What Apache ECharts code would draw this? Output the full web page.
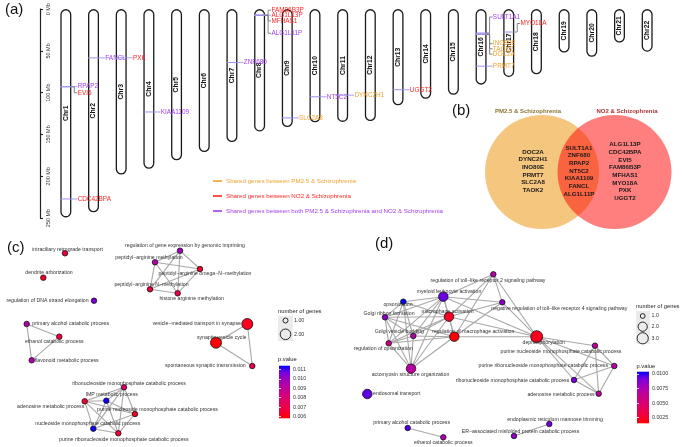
<!DOCTYPE html>
<html><head><meta charset="utf-8">
<script src="https://cdn.jsdelivr.net/npm/echarts@6/dist/echarts.min.js"></script>
<style>html,body{margin:0;padding:0;background:#fff}#chart{width:685px;height:447px}</style>
</head><body><div id="chart"></div>
<script>
// ---------------- DATA ----------------
// (a) chromosomes (lengths in Mb)
const chromosomes = ['Chr1','Chr2','Chr3','Chr4','Chr5','Chr6','Chr7','Chr8','Chr9','Chr10','Chr11','Chr12','Chr13','Chr14','Chr15','Chr16','Chr17','Chr18','Chr19','Chr20','Chr21','Chr22'];
const chrLengthMb = [249.3, 243.2, 198.0, 191.2, 180.9, 171.1, 159.1, 146.4, 141.2, 135.5, 135.0, 133.9, 115.2, 107.3, 102.5, 90.4, 81.2, 78.1, 52, 57, 40, 51];
const mbTicks = [0, 50, 100, 150, 200, 250];

const geneNames = ['RPAP2','EVI5','CDC42BPA','FANCL','PXK','KIAA1109','ZNF680','FAM86B3P','ALG1L13P','MFHAS1','ALG1L11P','SLC2A8','NT5C2','DYNC2H1','UGGT2','SULT1A1','INO80E','TAOK2','DOC2A','PRMT7','MYO18A'];
const geneChr   = ['Chr1','Chr1','Chr1','Chr2','Chr3','Chr4','Chr7','Chr8','Chr8','Chr8','Chr8','Chr9','Chr10','Chr11','Chr13','Chr16','Chr16','Chr16','Chr16','Chr16','Chr17'];
const genePosMb = [92.8, 93.0, 227.2, 58.4, 58.3, 123.1, 64.0, 7.2, 7.3, 7.6, 7.4, 130.2, 104.9, 103.0, 96.5, 28.6, 30.0, 30.0, 30.0, 68.3, 27.4];
const geneGroup = ['both','NO2','NO2','both','NO2','both','both','NO2','NO2','NO2','both','PM25','both','PM25','NO2','both','PM25','PM25','PM25','PM25','NO2'];
const groupLegend = ['Shared genes between PM2.5 & Schizophrenia','Shared genes between NO2 & Schizophrenia','Shared genes between both PM2.5 & Schizophrenia and NO2 & Schizophrenia'];

// (b) Venn
const vennSets = ['PM2.5 & Schizophrenia','NO2 & Schizophrenia'];
const vennPM25Only = ['DOC2A','DYNC2H1','INO80E','PRMT7','SLC2A8','TAOK2'];
const vennShared = ['SULT1A1','ZNF680','RPAP2','NT5C2','KIAA1109','FANCL','ALG1L11P'];
const vennNO2Only = ['ALG1L13P','CDC42BPA','EVI5','FAM86B3P','MFHAS1','MYO18A','PXK','UGGT2'];

// (c) enrichment network (PM2.5)
const cTerms = ['intraciliary retrograde transport','dendrite arborization','regulation of DNA strand elongation','regulation of gene expression by genomic imprinting','peptidyl\u2212arginine methylation','peptidyl\u2212arginine omega\u2212N\u2212methylation','peptidyl\u2212arginine N\u2212methylation','histone arginine methylation','primary alcohol catabolic process','ethanol catabolic process','flavonoid metabolic process','vesicle\u2212mediated transport in synapse','synaptic vesicle cycle','spontaneous synaptic transmission','ribonucleoside monophosphate catabolic process','IMP metabolic process','adenosine metabolic process','purine nucleoside monophosphate catabolic process','nucleoside monophosphate catabolic process','purine ribonucleoside monophosphate catabolic process'];
const cPvalue = [0.0068, 0.0064, 0.0105, 0.0098, 0.0094, 0.0065, 0.0068, 0.0070, 0.0094, 0.0067, 0.0094, 0.0063, 0.0059, 0.0072, 0.0078, 0.0113, 0.0065, 0.0063, 0.0113, 0.0066];
const cGeneCount = [1,1,1,1,1,1,1,1,1,1,1,2,2,1,1,1,1,1,1,1];
const cLayoutX = [65, 43.3, 94, 180, 155, 200, 150, 177.7, 26.7, 59.3, 31.7, 247.3, 216, 252.3, 124, 106.3, 84.7, 135, 93.3, 118.3];
const cLayoutY = [23.3, 47.7, 70.7, 20.7, 32.3, 39, 59.3, 63.3, 94, 106.7, 130.3, 94, 112.7, 136, 157.3, 170.7, 171.3, 184, 198.7, 203.3];
const cEdges = [[3,4],[3,5],[3,6],[3,7],[4,5],[4,6],[4,7],[5,6],[5,7],[6,7],[8,9],[8,10],[9,10],[11,12],[11,13],[12,13],
  [14,15],[14,16],[14,17],[14,18],[14,19],[15,16],[15,17],[15,18],[15,19],[16,17],[16,18],[16,19],[17,18],[17,19],[18,19]];
const cPTicks = [0.006, 0.011];

// (d) enrichment network (NO2)
const dTerms = ['regulation of toll\u2212like receptor 2 signaling pathway','myeloid leukocyte activation','opsonization','negative regulation of toll\u2212like receptor 4 signaling pathway','Golgi ribbon formation','macrophage activation','Golgi vesicle budding','regulation of macrophage activation','dephosphorylation','regulation of opsonization','actomyosin structure organization','endosomal transport','purine nucleoside monophosphate catabolic process','purine ribonucleoside monophosphate catabolic process','ribonucleoside monophosphate catabolic process','adenosine metabolic process','primary alcohol catabolic process','ethanol catabolic process','endoplasmic reticulum mannose trimming','ER\u2212associated misfolded protein catabolic process'];
const dPvalue = [0.0073, 0.0094, 0.0104, 0.0086, 0.0086, 0.0024, 0.0073, 0.0017, 0.0022, 0.0060, 0.0068, 0.0095, 0.0068, 0.0068, 0.0091, 0.0068, 0.0096, 0.0073, 0.0093, 0.0084];
const dGeneCount = [1,2,1,1,1,2,1,2,3,1,2,2,1,1,1,1,1,1,1,1];
const dLayoutX = [153.3, 103.3, 63.3, 162.3, 45, 109, 73.3, 114.3, 196.7, 48.7, 71, 27.3, 255, 274.3, 234, 258.7, 67.7, 103.3, 209.3, 174];
const dLayoutY = [44.3, 66.7, 71.7, 72.3, 87.3, 86.7, 106, 106.7, 106.7, 113.3, 138.7, 164, 115.7, 136, 150, 163.7, 198, 207.3, 194, 206];
const dEdges = [[0,1],[0,3],[0,5],[0,7],[0,8],[3,1],[3,5],[3,7],[3,8],
  [1,2],[1,4],[1,5],[1,6],[1,7],[1,8],[1,9],[1,10],
  [5,2],[5,4],[5,6],[5,7],[5,8],[5,9],[5,10],
  [7,4],[7,6],[7,8],[7,9],[7,10],
  [2,4],[2,6],[2,9],[2,10],[4,6],[4,9],[4,10],[6,9],[6,10],[9,10],
  [8,12],[8,13],[8,14],[8,15],[12,13],[12,14],[12,15],[13,14],[13,15],[14,15],[16,17],[18,19]];
const dPTicks = [0.0025, 0.0100];

// ---------------- STYLE / LAYOUT ----------------
const FONT = 'Liberation Sans, Arial, sans-serif';
const groupColor = {PM25:'#F0A22E', NO2:'#FF2424', both:'#A23CEE'};
const groupKeys = ['PM25','NO2','both'];
const markerColor = '#9D92EC';
const edgeColor = '#A8A8A8';
const geneLabelDy = [0, 6, 0, 0, 0, 0, 0, -5, 0, 5.5, 18, 0, 0, 0, 0, -16, 9.5, 14.6, 20, 0, -8.5];
const cLabelOff = [[2.5,-4],[5.7,-5],[-46.5,0],[5,-5],[-6,-4.6],[5,5],[1.5,-4.3],[14,5],[44,0],[-5,5],[35,0],[-50.6,0],[5.7,-5],[-47,0],[5,-4],[5.4,-5.7],[-34,5.4],[22.5,-4.7],[-5.5,-4.7],[5.5,6]];
const dLabelOff = [[-5.3,6.4],[5.7,-5.4],[-5.3,3.3],[57,6],[4,-4],[-1.5,-5],[-14,-4.3],[19,-5],[7,6],[-5.4,5],[-0.5,5.6],[29.4,0],[-34,5.6],[-71,0],[-61.5,0.7],[-37.7,1],[4,-5.3],[0,5],[5.7,-4],[6.5,-4.7]];
const cSize = {1:5.5, 2:11};
const dSize = {1:5.5, 2:9.5, 3:12};
const cRange = [0.00583, 0.01138];
const dRange = [0.00154, 0.0104];
const panelShiftC = 0, panelShiftD = 340;   // horizontal placement of each network inside the shared bottom grid
const gradStops = ['#FF0000','#F40031','#E80050','#DA006C','#CA0089','#B500A5','#9A00C2','#7300E0','#0000FF'];

function hexToRgb(h){return [parseInt(h.slice(1,3),16),parseInt(h.slice(3,5),16),parseInt(h.slice(5,7),16)];}
function pColor(p, r){
  let t = (p - r[0])/(r[1]-r[0]); t = Math.max(0, Math.min(1, t));
  const f = t*(gradStops.length-1); const i = Math.min(gradStops.length-2, Math.floor(f)); const u = f - i;
  const a = hexToRgb(gradStops[i]), b = hexToRgb(gradStops[i+1]);
  return 'rgb(' + a.map((v,k)=>Math.round(v+(b[k]-v)*u)).join(',') + ')';
}
function gradient(){
  const n = gradStops.length;
  return new echarts.graphic.LinearGradient(0,0,0,1, gradStops.slice().reverse().map((c,i)=>({offset:i/(n-1), color:c})));
}

const chart = echarts.init(document.getElementById('chart'), null, {renderer:'canvas'});

// all edges of both networks in one custom series drawn through the shared axes
const edgeRows = [];
cEdges.forEach(e=>edgeRows.push([cLayoutX[e[0]]+panelShiftC, cLayoutY[e[0]], cLayoutX[e[1]]+panelShiftC, cLayoutY[e[1]]]));
dEdges.forEach(e=>edgeRows.push([dLayoutX[e[0]]+panelShiftD, dLayoutY[e[0]], dLayoutX[e[1]]+panelShiftD, dLayoutY[e[1]]]));

function nodeSeries(terms, pv, cnt, lx, ly, off, sizeMap, range, shift){
  return {type:'scatter', xAxisIndex:2, yAxisIndex:2, silent:true, z:5,
    data: terms.map((t,i)=>({name:t, value:[lx[i]+shift, ly[i]], symbolSize:sizeMap[cnt[i]],
      itemStyle:{color:pColor(pv[i], range), borderColor:'#111', borderWidth:0.8, opacity:1},
      label:{offset:off[i]}})),
    label:{show:true, position:'inside', formatter:'{b}', color:'#333', fontSize:5.2, fontFamily:FONT}};
}

const chrBarW = 11;
const option = {
  animation:false,
  backgroundColor:'#fff',
  textStyle:{fontFamily:FONT},
  grid:[
    {left:52, right:24, top:9, bottom:229},
    {left:480, top:110, width:200, height:125},
    {left:0, top:230, width:685, height:217},
    {left:279, top:369.3, width:11, height:47.4},
    {left:637, top:374, width:12, height:43.7}
  ],
  xAxis:[
    {gridIndex:0, type:'category', data:chromosomes, show:false, boundaryGap:true},
    {gridIndex:1, type:'value', min:0, max:200, show:false},
    {gridIndex:2, type:'value', min:0, max:685, show:false},
    {gridIndex:3, type:'value', min:0, max:1, show:false},
    {gridIndex:4, type:'value', min:0, max:1, show:false}
  ],
  yAxis:[
    {gridIndex:0, type:'value', min:mbTicks[0], max:mbTicks[mbTicks.length-1], interval:50, inverse:true, position:'left', offset:12,
      axisLine:{show:true, lineStyle:{color:'#222', width:1.2}}, axisTick:{show:true, inside:true, length:3, lineStyle:{color:'#222', width:1.1}},
      splitLine:{show:false},
      axisLabel:{inside:true, rotate:90, margin:5, fontSize:5.5, color:'#333', formatter:'{value} Mb', fontFamily:FONT}},
    {gridIndex:1, type:'value', min:0, max:125, inverse:true, show:false},
    {gridIndex:2, type:'value', min:0, max:217, inverse:true, show:false},
    {gridIndex:3, type:'value', min:cPTicks[0], max:cPTicks[1], interval:0.001, position:'right',
      axisLine:{show:false}, splitLine:{show:false}, axisTick:{show:true, inside:true, length:2, lineStyle:{color:'#fff', width:0.8}},
      axisLabel:{margin:3, fontSize:5.3, color:'#333', formatter:v=>v.toFixed(3), fontFamily:FONT}, z:10},
    {gridIndex:3, type:'value', min:cPTicks[0], max:cPTicks[1], interval:0.001, position:'left',
      axisLine:{show:false}, splitLine:{show:false}, axisTick:{show:true, inside:true, length:2, lineStyle:{color:'#fff', width:0.8}},
      axisLabel:{show:false}, z:10},
    {gridIndex:4, type:'value', min:dPTicks[0], max:dPTicks[1], interval:0.0025, position:'right',
      axisLine:{show:false}, splitLine:{show:false}, axisTick:{show:true, inside:true, length:2, lineStyle:{color:'#fff', width:0.8}},
      axisLabel:{margin:3, fontSize:5.3, color:'#333', formatter:v=>v.toFixed(4), fontFamily:FONT}, z:10},
    {gridIndex:4, type:'value', min:dPTicks[0], max:dPTicks[1], interval:0.0025, position:'left',
      axisLine:{show:false}, splitLine:{show:false}, axisTick:{show:true, inside:true, length:2, lineStyle:{color:'#fff', width:0.8}},
      axisLabel:{show:false}, z:10}
  ],
  series:[
    // chromosomes
    {type:'bar', xAxisIndex:0, yAxisIndex:0, data:chrLengthMb, barWidth:chrBarW, silent:true,
      itemStyle:{color:'#fff', borderColor:'#1a1a1a', borderWidth:1.3, borderRadius:5},
      label:{show:true, position:'inside', rotate:90, formatter:p=>chromosomes[p.dataIndex], fontSize:6.8, fontWeight:'bold', color:'#111', fontFamily:FONT}},
    // gene annotations
    {type:'custom', xAxisIndex:0, yAxisIndex:0, silent:true, clip:false, z:4,
      data: geneNames.map((g,i)=>[geneChr[i], genePosMb[i]]),
      renderItem:(params, api)=>{
        const i = params.dataIndex;
        const p = api.coord([api.value(0), api.value(1)]);
        const xl = p[0]-chrBarW/2, xr = p[0]+chrBarW/2, y = p[1], dy = geneLabelDy[i], ly = y+dy;
        const conColor = dy===0 ? markerColor : '#7a7a7a';
        return {type:'group', children:[
          {type:'line', shape:{x1:xl, y1:y, x2:xr, y2:y}, style:{stroke:markerColor, lineWidth:1}},
          {type:'polyline', shape:{points:[[xr,y],[xr+3,y],[xr+3,ly],[xr+6,ly]]}, style:{stroke:conColor, lineWidth:0.9, fill:null}},
          {type:'text', x:xr+6.3, y:ly, style:{text:geneNames[i], fill:groupColor[geneGroup[i]], font:'6.4px '+FONT, textVerticalAlign:'middle', textAlign:'left', verticalAlign:'middle'}}
        ]};
      }},
    // Venn circles
    {type:'scatter', xAxisIndex:1, yAxisIndex:1, silent:true, symbolSize:114, z:2,
      data:[{value:[62,62], itemStyle:{color:'#F5C77E', opacity:1}}, {value:[134.5,62], itemStyle:{color:'#FF0000', opacity:0.5}}]},
    // network edges
    {type:'custom', xAxisIndex:2, yAxisIndex:2, silent:true, clip:false, z:3,
      dimensions:['x1','y1','x2','y2'], encode:{x:[0,2], y:[1,3]},
      data: edgeRows,
      renderItem:(params, api)=>{
        const a = api.coord([api.value(0), api.value(1)]);
        const b = api.coord([api.value(2), api.value(3)]);
        return {type:'line', shape:{x1:a[0], y1:a[1], x2:b[0], y2:b[1]}, style:{stroke:edgeColor, lineWidth:1.1, fill:null}};
      }},
    nodeSeries(cTerms, cPvalue, cGeneCount, cLayoutX, cLayoutY, cLabelOff, cSize, cRange, panelShiftC),
    nodeSeries(dTerms, dPvalue, dGeneCount, dLayoutX, dLayoutY, dLabelOff, dSize, dRange, panelShiftD)
  ],
  graphic:[
    {type:'text', left:5, top:2, style:{text:'(a)', font:'15px '+FONT, fill:'#111'}},
    {type:'text', left:452, top:103, style:{text:'(b)', font:'15px '+FONT, fill:'#111'}},
    {type:'text', left:7, top:240, style:{text:'(c)', font:'15px '+FONT, fill:'#111'}},
    {type:'text', left:375, top:236, style:{text:'(d)', font:'15px '+FONT, fill:'#111'}},
    // legend (a)
    ...groupLegend.map((t,i)=>({type:'group', children:[
      {type:'line', shape:{x1:213, y1:181+i*15, x2:222, y2:181+i*15}, style:{stroke:groupColor[groupKeys[i]], lineWidth:1.6}},
      {type:'text', x:226, y:181+i*15, style:{text:t, fill:groupColor[groupKeys[i]], font:'6.2px '+FONT, textVerticalAlign:'middle', verticalAlign:'middle'}}
    ]})),
    // Venn titles and lists
    {type:'text', x:528, y:111, style:{text:vennSets[0], fill:'#8C7330', font:'bold 6px '+FONT, textAlign:'center', textVerticalAlign:'middle', align:'center', verticalAlign:'middle'}},
    {type:'text', x:627, y:111, style:{text:vennSets[1], fill:'#A83236', font:'bold 6px '+FONT, textAlign:'center', textVerticalAlign:'middle', align:'center', verticalAlign:'middle'}},
    {type:'text', x:533, y:171, z:10, style:{text:vennPM25Only.join('\n'), fill:'#1a1a1a', font:'bold 6.2px '+FONT, lineHeight:7.67, textAlign:'center', textVerticalAlign:'middle', align:'center', verticalAlign:'middle'}},
    {type:'text', x:579, y:171, z:10, style:{text:vennShared.join('\n'), fill:'#1a1a1a', font:'bold 6.2px '+FONT, lineHeight:7.67, textAlign:'center', textVerticalAlign:'middle', align:'center', verticalAlign:'middle'}},
    {type:'text', x:625, y:171.3, z:10, style:{text:vennNO2Only.join('\n'), fill:'#1a1a1a', font:'bold 6.2px '+FONT, lineHeight:7.67, textAlign:'center', textVerticalAlign:'middle', align:'center', verticalAlign:'middle'}},
    // legend (c)
    {type:'text', x:278, y:311, style:{text:'number of genes', fill:'#222', font:'5.8px '+FONT, textVerticalAlign:'middle', verticalAlign:'middle'}},
    {type:'rect', shape:{x:278, y:316, width:15, height:25}, style:{fill:'#EBEBEB'}},
    {type:'circle', shape:{cx:285.5, cy:320.5, r:2.5}, style:{fill:'#EBEBEB', stroke:'#111', lineWidth:0.9}},
    {type:'circle', shape:{cx:285.5, cy:334.3, r:5.3}, style:{fill:'#EBEBEB', stroke:'#111', lineWidth:0.9}},
    {type:'text', x:294, y:320.5, style:{text:'1.00', fill:'#333', font:'5.3px '+FONT, textVerticalAlign:'middle', verticalAlign:'middle'}},
    {type:'text', x:294, y:334.3, style:{text:'2.00', fill:'#333', font:'5.3px '+FONT, textVerticalAlign:'middle', verticalAlign:'middle'}},
    {type:'text', x:278, y:359.5, style:{text:'p.value', fill:'#222', font:'5.8px '+FONT, textVerticalAlign:'middle', verticalAlign:'middle'}},
    {type:'rect', z:1, shape:{x:279, y:365.7, width:11, height:52.6}, style:{fill:gradient()}},
    // legend (d)
    {type:'text', x:636, y:306, style:{text:'number of genes', fill:'#222', font:'5.8px '+FONT, textVerticalAlign:'middle', verticalAlign:'middle'}},
    {type:'rect', shape:{x:636, y:311, width:14, height:33}, style:{fill:'#EBEBEB'}},
    {type:'circle', shape:{cx:642.7, cy:316, r:2.4}, style:{fill:'#EBEBEB', stroke:'#111', lineWidth:0.9}},
    {type:'circle', shape:{cx:642.7, cy:326.7, r:4.6}, style:{fill:'#EBEBEB', stroke:'#111', lineWidth:0.9}},
    {type:'circle', shape:{cx:642.7, cy:338.3, r:5.6}, style:{fill:'#EBEBEB', stroke:'#111', lineWidth:0.9}},
    {type:'text', x:651.5, y:316, style:{text:'1.0', fill:'#333', font:'5.3px '+FONT, textVerticalAlign:'middle', verticalAlign:'middle'}},
    {type:'text', x:651.5, y:326.7, style:{text:'2.0', fill:'#333', font:'5.3px '+FONT, textVerticalAlign:'middle', verticalAlign:'middle'}},
    {type:'text', x:651.5, y:338.3, style:{text:'3.0', fill:'#333', font:'5.3px '+FONT, textVerticalAlign:'middle', verticalAlign:'middle'}},
    {type:'text', x:636.5, y:366.7, style:{text:'p.value', fill:'#222', font:'5.8px '+FONT, textVerticalAlign:'middle', verticalAlign:'middle'}},
    {type:'rect', z:1, shape:{x:637, y:371.7, width:12, height:51.6}, style:{fill:gradient()}}
  ]
};
chart.setOption(option);
</script></body></html>
